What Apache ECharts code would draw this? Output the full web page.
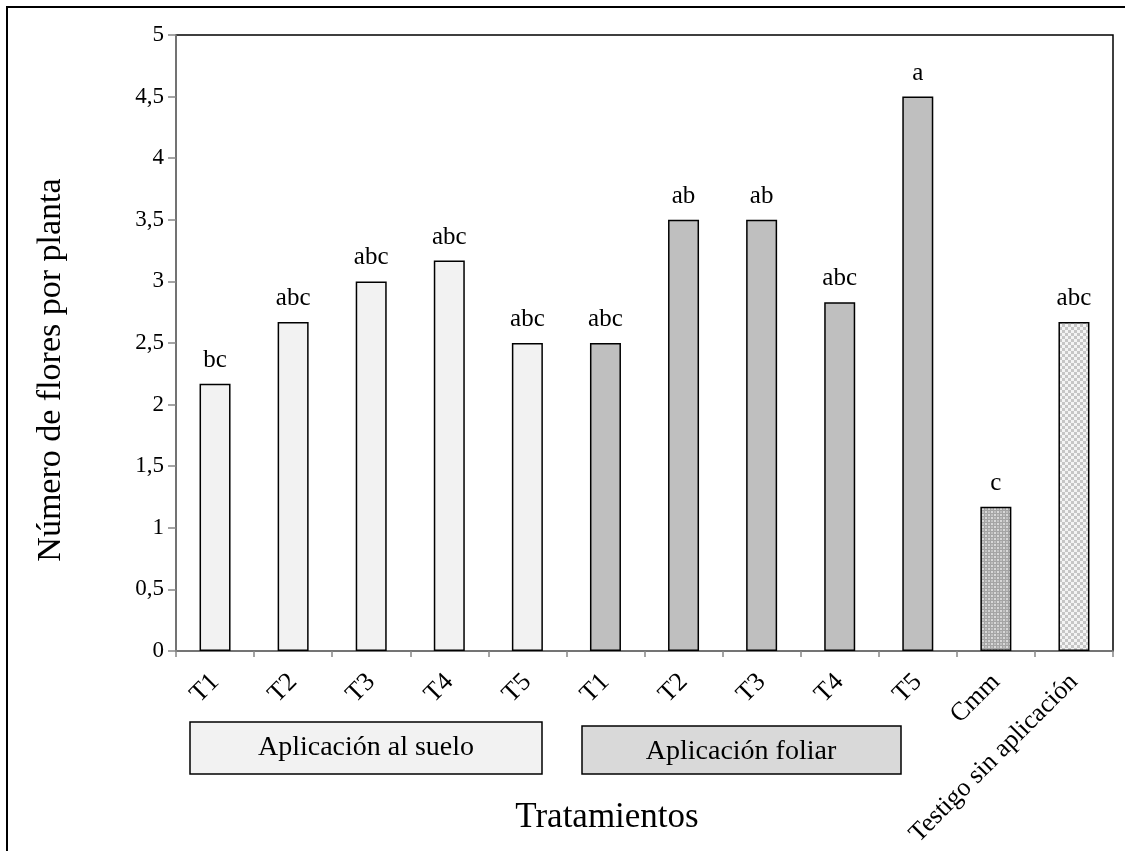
<!DOCTYPE html>
<html>
<head>
<meta charset="utf-8">
<script src="https://cdn.jsdelivr.net/npm/echarts@6/dist/echarts.min.js"></script>
<style>
  html, body { margin: 0; padding: 0; background: #fff; }
  #chart { width: 1125px; height: 851px; }
</style>
</head>
<body>
<div id="chart"></div>
<script>
// ---- data ----
const categories = ['T1','T2','T3','T4','T5','T1','T2','T3','T4','T5','Cmm','Testigo sin aplicación'];
const values = [2.17, 2.67, 3.0, 3.17, 2.5, 2.5, 3.5, 3.5, 2.83, 4.5, 1.17, 2.67];
const letters = ['bc','abc','abc','abc','abc','abc','ab','ab','abc','a','c','abc'];
const groups = ['suelo','suelo','suelo','suelo','suelo','foliar','foliar','foliar','foliar','foliar','cmm','testigo'];
const yTicks = [0, 0.5, 1, 1.5, 2, 2.5, 3, 3.5, 4, 4.5, 5];
const legendLabels = ['Aplicación al suelo', 'Aplicación foliar'];
const yTitle = 'Número de flores por planta';
const xTitle = 'Tratamientos';

// ---- patterns ----
function makePattern(draw, size) {
  const c = document.createElement('canvas');
  c.width = size; c.height = size;
  const ctx = c.getContext('2d');
  draw(ctx);
  return c;
}
const cmmPattern = makePattern(function (ctx) {
  ctx.fillStyle = '#a4a4a4'; ctx.fillRect(0, 0, 6, 6);
  ctx.fillStyle = '#d8d8d8';
  ctx.fillRect(1, 1, 2, 2); ctx.fillRect(4, 4, 2, 2);
  ctx.fillStyle = '#c0c0c0';
  ctx.fillRect(4, 1, 2, 2); ctx.fillRect(1, 4, 2, 2);
}, 6);
const testigoPattern = makePattern(function (ctx) {
  ctx.fillStyle = '#f4f4f4'; ctx.fillRect(0, 0, 6, 6);
  ctx.fillStyle = '#c6c6c6';
  ctx.fillRect(0, 0, 3, 3); ctx.fillRect(3, 3, 3, 3);
}, 6);

const fills = {
  suelo: '#f2f2f2',
  foliar: '#bfbfbf',
  cmm: { image: cmmPattern, repeat: 'repeat' },
  testigo: { image: testigoPattern, repeat: 'repeat' }
};

const FONT = "'Liberation Serif', 'Times New Roman', serif";

const chart = echarts.init(document.getElementById('chart'), null, { renderer: 'canvas' });

const seriesData = values.map(function (v, i) {
  return { value: v, itemStyle: { color: fills[groups[i]] } };
});

chart.setOption({
  animation: false,
  backgroundColor: '#fff',
  grid: {
    left: 176, top: 35, right: 12, bottom: 200,
    show: true, borderColor: '#000', borderWidth: 1.5, backgroundColor: 'transparent'
  },
  xAxis: {
    type: 'category',
    data: categories,
    axisLine: { lineStyle: { color: '#868686', width: 1.5 } },
    axisTick: { show: true, length: 6, lineStyle: { color: '#868686', width: 1.5 } },
    axisLabel: {
      rotate: 45, margin: 27, fontFamily: FONT, fontSize: 26, color: '#000', interval: 0
    }
  },
  yAxis: {
    type: 'value',
    min: yTicks[0], max: yTicks[yTicks.length - 1], interval: 0.5,
    axisLine: { show: true, lineStyle: { color: '#868686', width: 1.5 } },
    axisTick: { show: true, length: 8, lineStyle: { color: '#868686', width: 1.5 } },
    splitLine: { show: false },
    axisLabel: {
      margin: 12, fontFamily: FONT, fontSize: 23, color: '#000',
      formatter: function (v) { return String(v).replace('.', ','); }
    }
  },
  series: [{
    type: 'bar',
    data: seriesData,
    barWidth: 31,
    itemStyle: { borderColor: '#000', borderWidth: 1.5 },
    label: {
      show: true, position: 'top', distance: 11,
      fontFamily: FONT, fontSize: 25, color: '#000',
      formatter: function (p) { return letters[p.dataIndex]; }
    }
  }],
  graphic: [
    { type: 'rect', z: -10, shape: { x: 7, y: 7, width: 1300, height: 1000 },
      style: { fill: 'none', stroke: '#000', lineWidth: 2 } },
    { type: 'rect', shape: { x: 190, y: 722, width: 352, height: 52 },
      style: { fill: '#f2f2f2', stroke: '#000', lineWidth: 1.5 } },
    { type: 'text', x: 366, y: 748,
      style: { text: legendLabels[0], font: '28px ' + FONT, fill: '#000', textAlign: 'center', textVerticalAlign: 'middle' } },
    { type: 'rect', shape: { x: 582, y: 726, width: 319, height: 48 },
      style: { fill: '#d9d9d9', stroke: '#000', lineWidth: 1.5 } },
    { type: 'text', x: 741, y: 752,
      style: { text: legendLabels[1], font: '28px ' + FONT, fill: '#000', textAlign: 'center', textVerticalAlign: 'middle' } },
    { type: 'text', x: 607, y: 818,
      style: { text: xTitle, font: '35px ' + FONT, fill: '#000', textAlign: 'center', textVerticalAlign: 'middle' } },
    { type: 'text', x: 51, y: 370, rotation: Math.PI / 2,
      style: { text: yTitle, font: '34px ' + FONT, fill: '#000', textAlign: 'center', textVerticalAlign: 'middle' } }
  ]
});
</script>
</body>
</html>
